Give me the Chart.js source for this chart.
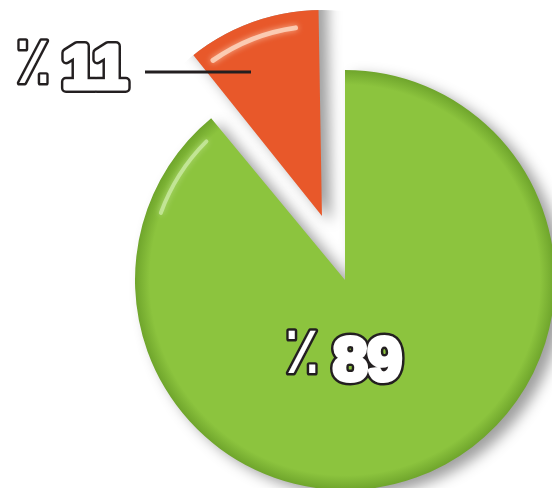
<!DOCTYPE html>
<html>
<head>
<meta charset="utf-8">
<script src="https://cdn.jsdelivr.net/npm/chart.js@4.4.0/dist/chart.umd.min.js"></script>
<style>
  html, body { margin: 0; padding: 0; background: #fff; }
  #wrap { width: 552px; height: 488px; position: relative; }
</style>
</head>
<body>
<div id="wrap"><canvas id="pieChart"></canvas></div>
<script>
// valores (percentagens)
const categorias = ['89', '11'];
const valores = [89, 11];
const cores = ['#8cc43e', '#e8582a'];
const coresBorda = ['#6fa52c', '#c9431c'];
const afastamento = [0, 272]; // o Chart.js divide por 4 ao desenhar
const sinal = '\u066A'; // ٪
const RAIO = 210;
const RAIO_FATIA = [240, 206]; // recorte de cada fatia

// centro de cada fatia (com o afastamento)
function centroFatia(chart, i) {
    const a = chart.chartArea;
    let x = (a.left + a.right) / 2, y = (a.top + a.bottom) / 2;
    const total = valores.reduce((s, v) => s + v, 0);
    let ini = -Math.PI / 2;
    for (let k = 0; k < i; k++) ini += valores[k] / total * Math.PI * 2;
    const meio = ini + valores[i] / total * Math.PI;
    const off = afastamento[i] / 4;
    return { x: x + Math.cos(meio) * off, y: y + Math.sin(meio) * off };
}

function corFatia(context) {
    const chart = context.chart;
    const i = context.dataIndex;
    if (!chart.chartArea) return cores[i];
    const c = centroFatia(chart, i);
    const r = Math.min(RAIO, RAIO_FATIA[i]);
    const g = chart.ctx.createRadialGradient(c.x, c.y, 0, c.x, c.y, r);
    g.addColorStop(0, cores[i]);
    g.addColorStop(0.93, cores[i]);
    g.addColorStop(1, coresBorda[i]);
    return g;
}

// sombra e recorte das fatias
const sombra = {
    id: 'sombra',
    beforeDatasetDraw(chart) {
        const ctx = chart.ctx;
        ctx.save();
        ctx.beginPath();
        valores.forEach((v, i) => {
            const c = centroFatia(chart, i);
            ctx.moveTo(c.x + RAIO_FATIA[i], c.y);
            ctx.arc(c.x, c.y, RAIO_FATIA[i], 0, Math.PI * 2);
        });
        ctx.clip();
        ctx.shadowColor = 'rgba(0,0,0,0.38)';
        ctx.shadowBlur = 14;
        ctx.shadowOffsetX = 9;
        ctx.shadowOffsetY = 6;
    },
    afterDatasetDraw(chart) {
        chart.ctx.restore();
    }
};

// brilhos
const brilho = {
    id: 'brilho',
    afterDatasetsDraw(chart) {
        const ctx = chart.ctx;
        const g = Math.PI / 180;
        ctx.save();
        ctx.lineCap = 'round';
        ctx.shadowBlur = 6;
        let c = centroFatia(chart, 1);
        ctx.strokeStyle = 'rgba(255,225,205,0.75)';
        ctx.shadowColor = 'rgba(255,225,205,0.9)';
        ctx.lineWidth = 5;
        ctx.beginPath();
        ctx.arc(c.x, c.y, RAIO_FATIA[1] - 16, -125 * g, -98 * g);
        ctx.stroke();
        c = centroFatia(chart, 0);
        ctx.strokeStyle = 'rgba(220,245,190,0.6)';
        ctx.shadowColor = 'rgba(220,245,190,0.8)';
        ctx.lineWidth = 4;
        ctx.beginPath();
        ctx.arc(c.x, c.y, RAIO - 14, -135 * g, -160 * g, true);
        ctx.stroke();
        ctx.restore();
    }
};

function textoContornado(ctx, txt, x, y, font, grosso) {
    ctx.font = font;
    ctx.lineJoin = 'round';
    ctx.strokeStyle = '#231f20';
    ctx.lineWidth = grosso + 5;
    ctx.strokeText(txt, x, y);
    ctx.strokeStyle = '#ffffff';
    ctx.lineWidth = grosso;
    ctx.strokeText(txt, x, y);
    ctx.fillStyle = '#ffffff';
    ctx.fillText(txt, x, y);
}

// rótulos
const rotulos = {
    id: 'rotulos',
    afterDraw(chart) {
        const ctx = chart.ctx;
        const arcs = chart.getDatasetMeta(0).data;
        const cx = arcs[0].x, cy = arcs[0].y;
        ctx.save();
        ctx.textAlign = 'left';
        ctx.textBaseline = 'alphabetic';

        // % 11 + linha
        textoContornado(ctx, sinal, cx - 330, cy - 197, '67px "DejaVu Sans"', 0.1);
        textoContornado(ctx, categorias[1], cx - 283, cy - 192, 'bold 62px "Liberation Sans"', 5);
        ctx.beginPath();
        ctx.moveTo(cx - 200, cy - 208);
        ctx.lineTo(cx - 94, cy - 208);
        ctx.lineWidth = 3;
        ctx.strokeStyle = '#231f20';
        ctx.stroke();

        // % 89
        textoContornado(ctx, sinal, cx - 61, cy + 93, '67px "DejaVu Sans"', 0.1);
        textoContornado(ctx, categorias[0], cx - 12, cy + 100, 'bold 62px "Liberation Sans"', 5);
        ctx.restore();
    }
};

const ctx = document.getElementById('pieChart').getContext('2d');
const grafico = new Chart(ctx, {
    type: 'pie',
    data: {
        labels: categorias,
        datasets: [{
            data: valores,
            backgroundColor: corFatia,
            borderWidth: 0,
            offset: afastamento,
            radius: RAIO,
            clip: false
        }]
    },
    options: {
        responsive: true,
        maintainAspectRatio: false,
        animation: false,
        layout: { padding: { left: 138, right: 0, top: 72, bottom: 0 } },
        plugins: {
            legend: { display: false },
            tooltip: { enabled: false }
        }
    },
    plugins: [sombra, brilho, rotulos]
});
</script>
</body>
</html>
